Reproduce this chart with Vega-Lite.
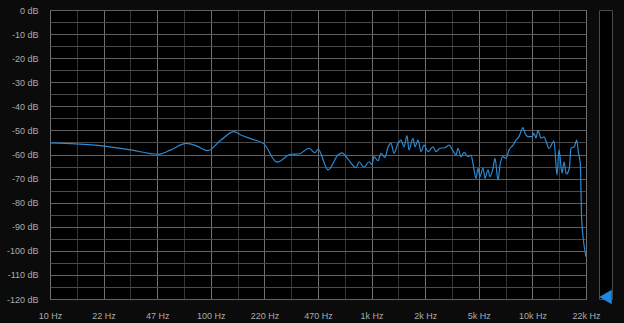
{
  "$schema": "https://vega.github.io/schema/vega-lite/v6.json",
  "background": "#0b0b0b",
  "padding": {"left": 5, "top": 5, "right": 13, "bottom": 3},
  "bounds": "flush",
  "spacing": 13,
  "config": {
    "view": {"fill": "#000000", "stroke": "#6e6e6e"},
    "axis": {
      "labelFont": "Liberation Sans",
      "labelFontSize": 9,
      "labelColor": "#ababab",
      "domain": false,
      "ticks": false,
      "tickSize": 0,
      "labelPadding": 12,
      "title": null,
      "gridOpacity": 1,
      "gridWidth": 1,
      "labelOverlap": false,
      "labelFlush": false,
      "labelBound": false
    }
  },
  "hconcat": [
    {
      "width": 536,
      "height": 289,
      "data": {
        "values": [
          {"freq": 10, "db": -55.2},
          {"freq": 14.5, "db": -55.6},
          {"freq": 21.7, "db": -56.5},
          {"freq": 31.9, "db": -58.1},
          {"freq": 46.8, "db": -59.9},
          {"freq": 56.5, "db": -58.1},
          {"freq": 70.1, "db": -55.4},
          {"freq": 82.1, "db": -56.5},
          {"freq": 95.6, "db": -58.4},
          {"freq": 115.7, "db": -54.0},
          {"freq": 139.4, "db": -50.5},
          {"freq": 154.1, "db": -51.9},
          {"freq": 180, "db": -53.6},
          {"freq": 214.2, "db": -55.6},
          {"freq": 258, "db": -63.2},
          {"freq": 315.3, "db": -59.9},
          {"freq": 353.6, "db": -59.8},
          {"freq": 408, "db": -57.4},
          {"freq": 444.6, "db": -59.3},
          {"freq": 464.2, "db": -57.8},
          {"freq": 535.6, "db": -66.4},
          {"freq": 618, "db": -60.2},
          {"freq": 654.3, "db": -59.3},
          {"freq": 713.3, "db": -61.9},
          {"freq": 799.8, "db": -65.5},
          {"freq": 834.9, "db": -63.0},
          {"freq": 896.7, "db": -65.3},
          {"freq": 963.4, "db": -63.0},
          {"freq": 1005.8, "db": -64.1},
          {"freq": 1034.9, "db": -60.9},
          {"freq": 1095.9, "db": -62.6},
          {"freq": 1144, "db": -59.5},
          {"freq": 1211, "db": -61.2},
          {"freq": 1265, "db": -57.0},
          {"freq": 1320, "db": -55.4},
          {"freq": 1378, "db": -59.5},
          {"freq": 1459, "db": -55.4},
          {"freq": 1523, "db": -54.0},
          {"freq": 1591, "db": -56.8},
          {"freq": 1660, "db": -52.2},
          {"freq": 1708, "db": -58.1},
          {"freq": 1809, "db": -53.3},
          {"freq": 1862, "db": -56.8},
          {"freq": 1944, "db": -54.0},
          {"freq": 2029, "db": -58.8},
          {"freq": 2118, "db": -56.1},
          {"freq": 2243, "db": -58.8},
          {"freq": 2409, "db": -56.8},
          {"freq": 2515, "db": -58.8},
          {"freq": 2664, "db": -57.4},
          {"freq": 2861, "db": -57.2},
          {"freq": 3029, "db": -56.1},
          {"freq": 3208, "db": -58.5},
          {"freq": 3349, "db": -60.2},
          {"freq": 3446, "db": -57.4},
          {"freq": 3597, "db": -60.9},
          {"freq": 3755, "db": -59.1},
          {"freq": 3977, "db": -60.9},
          {"freq": 4152, "db": -60.2},
          {"freq": 4272, "db": -63.7},
          {"freq": 4461, "db": -69.9},
          {"freq": 4588, "db": -65.7},
          {"freq": 4722, "db": -69.2},
          {"freq": 4929, "db": -65.5},
          {"freq": 5072, "db": -69.9},
          {"freq": 5296, "db": -66.4},
          {"freq": 5450, "db": -69.2},
          {"freq": 5689, "db": -65.7},
          {"freq": 5854, "db": -61.6},
          {"freq": 6112, "db": -70.6},
          {"freq": 6289, "db": -64.4},
          {"freq": 6566, "db": -60.9},
          {"freq": 6852, "db": -61.6},
          {"freq": 7154, "db": -58.1},
          {"freq": 7575, "db": -56.1},
          {"freq": 7907, "db": -54.0},
          {"freq": 8255, "db": -52.6},
          {"freq": 8740, "db": -48.8},
          {"freq": 8995, "db": -51.2},
          {"freq": 9389, "db": -52.6},
          {"freq": 9943, "db": -52.6},
          {"freq": 10233, "db": -51.2},
          {"freq": 10530, "db": -53.2},
          {"freq": 10834, "db": -50.0},
          {"freq": 11310, "db": -53.2},
          {"freq": 11808, "db": -52.7},
          {"freq": 12152, "db": -54.4},
          {"freq": 12685, "db": -57.5},
          {"freq": 13623, "db": -54.4},
          {"freq": 14223, "db": -68.5},
          {"freq": 14635, "db": -58.1},
          {"freq": 15280, "db": -67.7},
          {"freq": 15723, "db": -63.0},
          {"freq": 16250, "db": -68.1},
          {"freq": 16966, "db": -65.7},
          {"freq": 17378, "db": -57.4},
          {"freq": 18220, "db": -56.8},
          {"freq": 18857, "db": -54.0},
          {"freq": 19292, "db": -58.8},
          {"freq": 19855, "db": -63.9},
          {"freq": 20257, "db": -87.2},
          {"freq": 20548, "db": -92.7},
          {"freq": 21540, "db": -102.4}
        ]
      },
      "mark": {"type": "line", "color": "#2a8ad4", "strokeWidth": 1.2, "clip": true, "interpolate": "monotone"},
      "encoding": {
        "x": {
          "field": "freq",
          "type": "quantitative",
          "scale": {"type": "log", "domain": [10, 21544.4], "nice": false},
          "axis": {
            "values": [10, 14.678, 21.544, 31.623, 46.416, 68.129, 100, 146.78, 215.44, 316.23, 464.16, 681.29, 1000, 1467.8, 2154.4, 3162.3, 4641.6, 6812.9, 10000, 14678, 21544.3],
            "labelExpr": "(round(log(datum.value)/LN10*6)%2==0) ? ['10 Hz','22 Hz','47 Hz','100 Hz','220 Hz','470 Hz','1k Hz','2k Hz','5k Hz','10k Hz','22k Hz'][(round(log(datum.value)/LN10*6)-6)/2] : ''",
            "grid": true,
            "gridColor": {"condition": {"test": "round(log(datum.value)/LN10*6)%2==0", "value": "#707070"}, "value": "#363636"}
          }
        },
        "y": {
          "field": "db",
          "type": "quantitative",
          "scale": {"domain": [-120, 0], "nice": false},
          "axis": {
            "values": [-120, -115, -110, -105, -100, -95, -90, -85, -80, -75, -70, -65, -60, -55, -50, -45, -40, -35, -30, -25, -20, -15, -10, -5, 0],
            "labelExpr": "datum.value % 10 == 0 ? datum.value + ' dB' : ''",
            "grid": true,
            "gridColor": {"condition": {"test": "datum.value % 10 == 0", "value": "#606060"}, "value": "#4a4a4a"}
          }
        }
      }
    },
    {
      "width": 13,
      "height": 289,
      "view": {"fill": "#000000", "stroke": "#4a4a4a"},
      "data": {"values": [{"level": -119.2}]},
      "mark": {"type": "point", "shape": "triangle-left", "filled": true, "size": 210, "color": "#1e88e5", "opacity": 1},
      "encoding": {
        "y": {"field": "level", "type": "quantitative", "scale": {"domain": [-120, 0], "nice": false}, "axis": null}
      }
    }
  ]
}
